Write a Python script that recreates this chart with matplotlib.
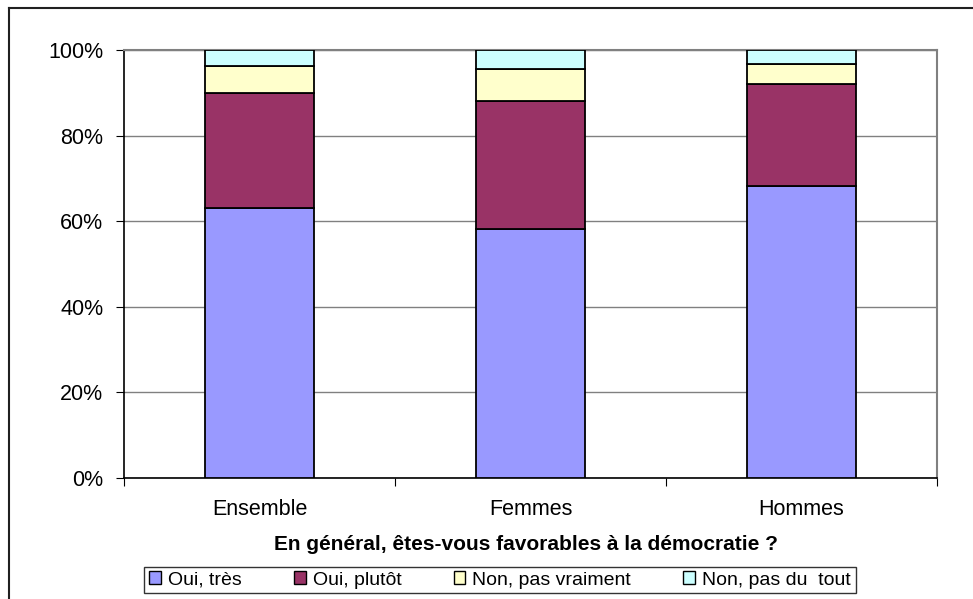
import matplotlib
matplotlib.use("Agg")
import matplotlib.pyplot as plt
from matplotlib.patches import Patch
from matplotlib.lines import Line2D
import numpy as np

plt.rcParams['font.family'] = ['Liberation Sans', 'DejaVu Sans']

categories = ["Ensemble", "Femmes", "Hommes"]
series_names = ["Oui, très", "Oui, plutôt", "Non, pas vraiment", "Non, pas du  tout"]
oui_tres = [63.0, 58.2, 68.2]
oui_plutot = [27.0, 29.9, 23.8]
non_pas_vraiment = [6.3, 7.4, 4.7]
non_pas_du_tout = [3.7, 4.5, 3.3]
colors = ["#9999FF", "#993366", "#FFFFCC", "#CCFFFF"]
yticks = [0, 20, 40, 60, 80, 100]
ytick_labels = ["0%", "20%", "40%", "60%", "80%", "100%"]
title = "En général, êtes-vous favorables à la démocratie ?"

W, H = 973, 599
fig = plt.figure(figsize=(W / 100, H / 100), dpi=100)
ax = fig.add_axes([124 / W, 1 - 478 / H, (937 - 124) / W, (478 - 50) / H])

x = np.arange(len(categories))
bottom = np.zeros(len(categories))
for vals, col, name in zip([oui_tres, oui_plutot, non_pas_vraiment, non_pas_du_tout], colors, series_names):
    ax.bar(x, vals, 0.4, bottom=bottom, color=col, edgecolor="black", linewidth=1.3, label=name, zorder=3)
    bottom += np.array(vals)

ax.set_xlim(-0.5, len(categories) - 0.5)
ax.set_ylim(0, 100)
ax.set_yticks(yticks)
ax.set_yticklabels(ytick_labels, fontsize=15.5)
ax.yaxis.grid(True, color="#808080", linewidth=1, zorder=0)
ax.set_axisbelow(True)

ax.set_xticks(np.arange(len(categories) + 1) - 0.5)
ax.set_xticklabels([])
ax.set_xticks(x, minor=True)
ax.set_xticklabels(categories, minor=True, fontsize=15.5)
ax.tick_params(axis="x", which="minor", length=0, pad=15)
ax.tick_params(axis="x", which="major", length=6, direction="out", color="black")
ax.tick_params(axis="y", length=6, direction="out", color="black", pad=9)

for s in ["top", "right"]:
    ax.spines[s].set_color("#808080")
    ax.spines[s].set_linewidth(1.5)
for s in ["left", "bottom"]:
    ax.spines[s].set_color("black")
    ax.spines[s].set_linewidth(1.2)

fig.text(526 / W, 1 - 544 / H, title, ha="center", va="center", fontsize=15, fontweight="bold")

handles = [Patch(facecolor=c, edgecolor="black", linewidth=1) for c in colors]
leg = fig.legend(handles, series_names, loc="center", bbox_to_anchor=(500 / W, 1 - 580 / H),
                 ncol=4, fontsize=14, frameon=True, fancybox=False, handlelength=0.6, handleheight=0.6,
                 handletextpad=0.35, columnspacing=2.7, borderpad=0.25, borderaxespad=0,
                 edgecolor="black")
leg.get_frame().set_linewidth(1)

# outer chart frame
fig.add_artist(Line2D([9 / W, 9 / W], [0, 1 - 8 / H], color="#202020", linewidth=1.5, transform=fig.transFigure))
fig.add_artist(Line2D([9 / W, 1], [1 - 8 / H, 1 - 8 / H], color="#202020", linewidth=1.5, transform=fig.transFigure))

fig.savefig("out.png", dpi=100)
